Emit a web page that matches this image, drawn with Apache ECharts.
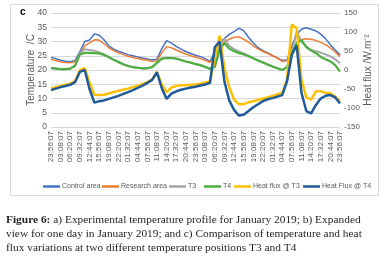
<!DOCTYPE html>
<html>
<head>
<meta charset="utf-8">
<script src="https://cdn.jsdelivr.net/npm/echarts@6/dist/echarts.min.js"></script>
<style>
html,body{margin:0;padding:0;background:#fff;}
#chart{width:390px;height:263px;}
</style>
</head>
<body>
<div id="chart"></div>
<script>
// Time categories (96-minute steps, 4 days)
var dayTimes = ["23:56:07","01:32:07","03:08:07","04:44:07","06:20:07","07:56:07","09:32:07","11:08:07","12:44:07","14:20:07","15:56:07","17:32:07","19:08:07","20:44:07","22:20:07"];
var categories = [].concat(dayTimes, dayTimes, dayTimes, dayTimes, ["23:56:07"]);

// Temperatures (°C)
var controlArea = [24.5,24.0,23.4,23.1,22.9,23.3,26.5,30.0,30.5,32.6,32.2,30.6,28.5,27.3,26.6,26.0,
  25.4,25.0,24.6,24.2,23.9,23.5,23.8,27.5,30.3,29.4,28.3,27.3,26.5,25.8,25.2,24.7,24.0,23.0,
  26.0,30.0,31.0,32.5,33.5,34.6,33.8,31.5,29.5,27.8,26.8,26.0,25.0,24.2,23.4,23.5,
  28.5,32.5,34.3,34.8,34.3,33.7,32.6,31.0,28.9,27.0,25.3];
var researchArea = [23.8,23.3,22.9,22.6,22.5,22.9,25.5,28.5,29.5,30.6,30.5,29.2,27.8,26.8,26.0,25.4,
  24.8,24.4,24.0,23.7,23.4,23.0,23.2,26.0,28.2,27.8,27.0,26.3,25.6,25.0,24.5,24.0,23.4,22.7,
  24.5,29.0,29.8,30.8,31.5,31.6,30.8,29.8,28.5,27.4,26.5,25.8,25.0,24.2,23.0,23.2,
  27.0,29.0,30.6,31.0,30.8,30.4,29.7,28.9,27.8,26.3,24.7];
var t3 = [20.7,20.5,20.3,20.3,20.5,21.5,26.0,27.3,27.0,26.8,26.2,25.5,24.6,23.6,22.8,22.0,
  21.4,21.0,20.8,20.6,20.6,21.0,22.5,24.0,24.3,24.3,24.0,23.5,23.0,22.6,22.1,21.7,21.1,20.4,
  21.5,29.0,31.0,28.5,27.3,26.5,25.8,25.0,24.1,23.3,22.6,21.9,21.2,20.6,20.0,21.0,
  26.0,33.5,30.0,28.2,27.0,26.6,26.1,25.5,24.8,23.8,22.4];
var t4 = [20.7,20.5,20.3,20.3,20.5,21.5,25.5,26.0,26.0,25.9,25.8,25.3,24.5,23.6,22.8,22.0,
  21.4,21.0,20.8,20.6,20.6,21.0,22.5,24.0,24.2,24.2,24.0,23.5,23.0,22.6,22.1,21.7,21.1,20.4,
  21.0,27.0,29.5,27.5,26.6,26.0,25.5,24.8,24.1,23.3,22.6,21.9,21.2,20.6,20.0,21.0,
  25.5,29.5,30.5,28.0,26.8,25.9,24.6,23.8,23.0,21.7,19.4];

// Heat flux (W/m²)
var heatFluxT3 = [-48,-45,-42,-39,-36,-29,0,5,-32,-65,-66,-65,-62,-58,-55,-52,
  -49,-45,-41,-37,-32,-25,-5,-38,-58,-46,-42,-40,-40,-39,-38,-36,-33,-30,
  30,90,5,-45,-78,-90,-90,-85,-82,-79,-75,-72,-68,-64,-61,-25,
  120,110,-25,-72,-78,-56,-56,-60,-61,-70,-82];
var heatFluxT4 = [-53,-49,-45,-42,-39,-32,-5,0,-50,-86,-82,-80,-76,-72,-68,-63,
  -58,-53,-47,-41,-34,-26,-6,-48,-76,-62,-56,-52,-49,-46,-44,-41,-38,-34,
  60,75,-30,-80,-105,-120,-118,-108,-98,-90,-82,-77,-74,-70,-66,-30,
  40,65,-60,-108,-114,-92,-75,-68,-66,-72,-88];

var seriesNames = ["Control area","Research area","T3","T4","Heat flux @ T3","Heat Flux @ T4"];
var seriesColors = ['#4472C4','#ED7D31','#A5A5A5','#4CAF3F','#FFC000','#1F5C99'];
var tempTicks = [0,40,5];
var fluxTicks = [-150,150,50];

var chart = echarts.init(document.getElementById('chart'), null, {renderer:'canvas'});
var axisFont = "'Liberation Sans', Arial, sans-serif";

function mk(name, data, color, width, axis) {
  return {
    name: name, type: 'line', data: data, yAxisIndex: axis,
    symbol: 'none', smooth: false,
    lineStyle: {color: color, width: width},
    itemStyle: {color: color},
    emphasis: {disabled: true},
    animation: false
  };
}

var legendLefts = [38, 97, 164, 199, 229, 298];
var legends = seriesNames.map(function (n, k) {
  return {
    left: legendLefts[k], top: 178,
    itemWidth: 17, itemHeight: 2.5, itemGap: 0,
    icon: 'rect', selectedMode: false,
    textStyle: {fontSize: 7, color: '#595959', fontFamily: axisFont, padding: [0,0,0,-3]},
    data: [n]
  };
});

chart.setOption({
  backgroundColor: '#ffffff',
  animation: false,
  grid: {left: 51, right: 50, top: 13, bottom: 136, containLabel: false},
  legend: legends,
  xAxis: {
    type: 'category',
    data: categories,
    boundaryGap: false,
    axisLine: {show: false},
    axisTick: {show: false},
    splitLine: {show: false},
    axisLabel: {interval: 1, rotate: 90, fontSize: 8, color: '#595959', margin: 4, fontFamily: axisFont}
  },
  yAxis: [{
    type: 'value', min: tempTicks[0], max: tempTicks[1], interval: tempTicks[2],
    name: 'Temperature  /C', nameLocation: 'middle', nameGap: 15, nameMoveOverlap: false,
    nameTextStyle: {fontSize: 10, color: '#595959', fontFamily: axisFont},
    axisLine: {show: false}, axisTick: {show: false},
    axisLabel: {fontSize: 8.5, color: '#595959', margin: 4, fontFamily: axisFont},
    splitLine: {lineStyle: {color: '#d9d9d9', width: 1}}
  }, {
    type: 'value', min: fluxTicks[0], max: fluxTicks[1], interval: fluxTicks[2],
    name: 'Heat flux /W.m\u207B\u00B2', nameLocation: 'middle', nameGap: 23, nameRotate: 90, nameMoveOverlap: false,
    nameTextStyle: {fontSize: 10, color: '#595959', fontFamily: axisFont},
    axisLine: {show: false}, axisTick: {show: false},
    axisLabel: {fontSize: 8, color: '#595959', margin: 4, fontFamily: axisFont},
    splitLine: {show: false}
  }],
  series: [
    mk(seriesNames[0], controlArea, seriesColors[0], 1.5, 0),
    mk(seriesNames[1], researchArea, seriesColors[1], 1.5, 0),
    mk(seriesNames[2], t3, seriesColors[2], 2, 0),
    mk(seriesNames[3], t4, seriesColors[3], 2.2, 0),
    mk(seriesNames[4], heatFluxT3, seriesColors[4], 2.5, 1),
    mk(seriesNames[5], heatFluxT4, seriesColors[5], 2.5, 1)
  ],
  graphic: [
    {type: 'rect', silent: true, z: -1, shape: {x: 10.5, y: 4.5, width: 368, height: 191},
     style: {fill: 'none', stroke: '#d9d9d9', lineWidth: 1}},
    {type: 'text', left: 20, top: 7, silent: true,
     style: {text: 'c', font: 'bold 10px ' + axisFont, fill: '#000'}},
    {type: 'text', left: 6, top: 213, silent: true,
     style: {
       text: '{b|Figure 6:} a) Experimental temperature profile for January 2019; b) Expanded\nview for one day in January 2019; and c) Comparison of temperature and heat\nflux variations at two different temperature positions T3 and T4',
       font: "11.4px 'Liberation Serif', 'Times New Roman', serif",
       fill: '#231f20', lineHeight: 14,
       rich: {b: {font: "bold 11.4px 'Liberation Serif', 'Times New Roman', serif", fill: '#231f20', lineHeight: 14}}
     }}
  ]
});
</script>
</body>
</html>
